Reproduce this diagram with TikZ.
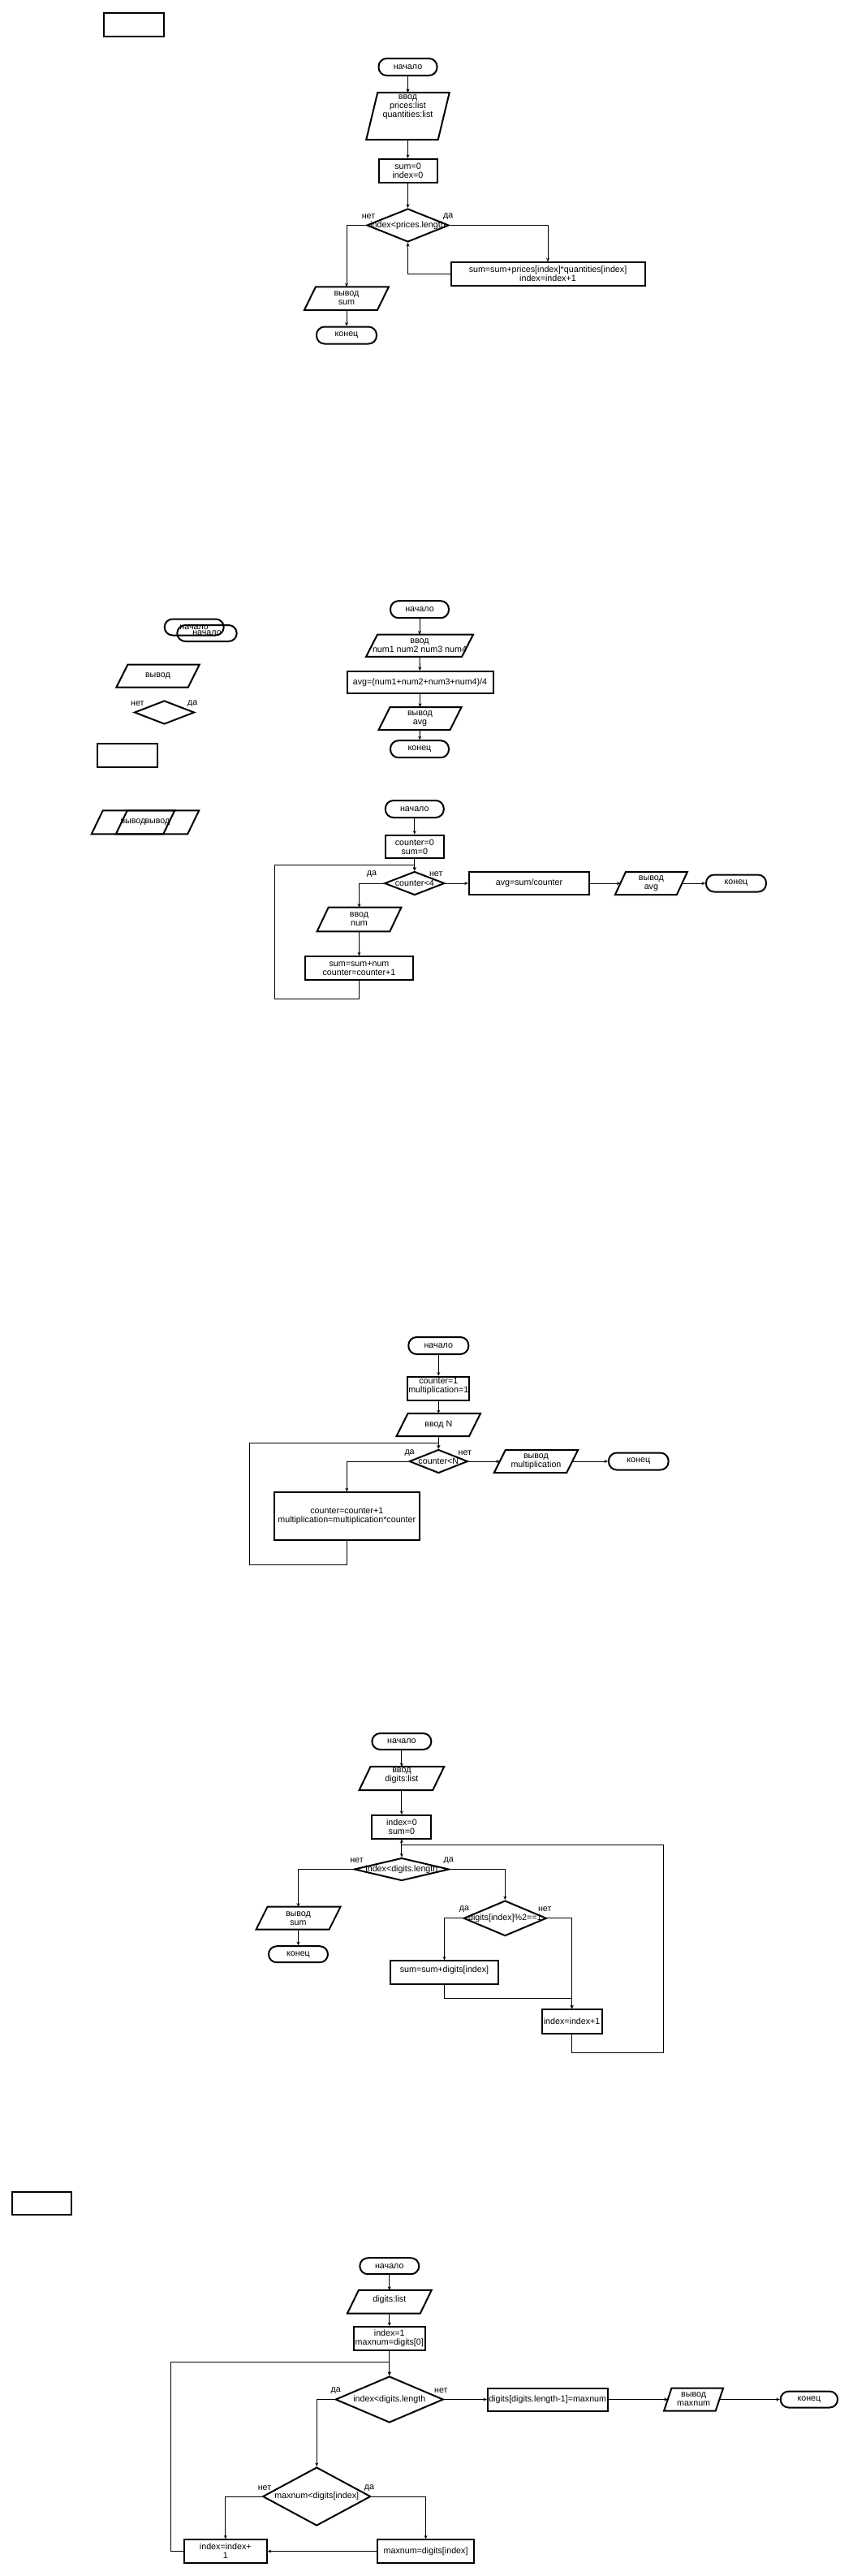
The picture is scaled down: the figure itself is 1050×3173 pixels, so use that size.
\documentclass[tikz,border=0pt]{standalone}
\usepackage{fontspec}
\setmainfont{Liberation Sans}
\usetikzlibrary{arrows.meta,shapes.geometric}
\tikzset{
  flow/.style={-{Stealth[length=4.5pt,width=4pt]},line width=1pt},
  term/.style={draw,line width=2pt,rounded corners=10pt,minimum height=21pt,inner sep=0pt},
  proc/.style={draw,line width=2pt,inner sep=1pt,align=center},
  cond/.style={diamond,draw,line width=2pt,inner sep=0pt},
  io/.style={inner sep=1pt,align=center,outer xsep=-#1,outer ysep=0pt,
    append after command={\pgfextra{\draw[line width=2pt]
      ([xshift=#1]\tikzlastnode.north west) -- ([xshift=#1]\tikzlastnode.north east)
      -- ([xshift=-#1]\tikzlastnode.south east) -- ([xshift=-#1]\tikzlastnode.south west) -- cycle;}}},
  io/.default=7pt,
  lift/.style={text depth=#1},
  lbl/.style={inner sep=0pt},
}
\begin{document}
\begin{tikzpicture}[x=1pt,y=-1pt,font=\fontsize{10.7}{11}\selectfont]
  \fill[white] (0,0) rectangle (1050,3173);
  \useasboundingbox (0,0) rectangle (1050,3173);

  % empty box, top left
  \node[proc,minimum width=74pt,minimum height=29pt] (blank1) at (164.5,30) {};

  % prices * quantities
  \node[term,minimum width=72pt] (c1start) at (502.5,82.5) {начало};
  \node[io,minimum width=102.5pt,minimum height=58pt,lift=25pt] (c1in) at (502.5,143)
    {ввод\\prices:list\\quantities:list};
  \node[proc,minimum width=72pt,minimum height=29pt] (c1init) at (502.5,210.3) {sum=0\\index=0};
  \node[cond,minimum width=101pt,minimum height=41pt] (c1cond) at (502.5,277.5)
    {\makebox[0pt]{index<prices.length}};
  \node[proc,minimum width=239pt,minimum height=28.5pt] (c1body) at (675,337.5)
    {sum=sum+prices[index]*quantities[index]\\index=index+1};
  \node[io,minimum width=104pt,minimum height=28.5pt] (c1out) at (427,367.5) {вывод\\sum};
  \node[term,minimum width=74pt] (c1end) at (427,413) {конец};
  \node[lbl] (c1no) at (454,266.7) {нет};
  \node[lbl] (c1yes) at (552.3,266.7) {да};
  \draw[flow] (c1start)--(c1in);
  \draw[flow] (c1in)--(c1init);
  \draw[flow] (c1init)--(c1cond);
  \draw[flow] (c1cond.west) -| (c1out.north);
  \draw[flow] (c1cond.east) -| (c1body.north);
  \draw[flow] (c1body.west) -| (c1cond.south);
  \draw[flow] (c1out)--(c1end);

  % loose shapes
  \node[term,minimum width=73pt,minimum height=20pt] (c2startA) at (239.2,772.5) {начало};
  \node[term,minimum width=73.4pt,minimum height=20pt] (c2startB) at (255,780) {начало};
  \node[io,minimum width=102.4pt,minimum height=28pt] (c2out) at (194.5,832.7) {вывод};
  \node[cond,minimum width=74pt,minimum height=29pt] (c2cond) at (202.5,877.5) {};
  \node[lbl] (c2no) at (169.3,866.7) {нет};
  \node[lbl] (c2yes) at (237.3,866.7) {да};
  \node[proc,minimum width=73.7pt,minimum height=29pt] (c2box) at (157.2,930.5) {};

  % average of four numbers
  \node[term,minimum width=72pt] (c2start) at (517,750.7) {начало};
  \node[io,minimum width=132pt,minimum height=27.3pt] (c2in) at (517,795.3) {ввод\\num1 num2 num3 num4};
  \node[proc,minimum width=180pt,minimum height=27pt] (c2avg) at (517.5,840.5) {avg=(num1+num2+num3+num4)/4};
  \node[io,minimum width=102pt,minimum height=28pt] (c2res) at (517.5,885) {вывод\\avg};
  \node[term,minimum width=72pt] (c2end) at (517,922.7) {конец};
  \draw[flow] (c2start)--(c2in);
  \draw[flow] (c2in)--(c2avg);
  \draw[flow] (c2avg)--(c2res);
  \draw[flow] (c2res)--(c2end);

  % two overlapping outputs
  \node[io,minimum width=102.5pt,minimum height=29pt] (c3pA) at (164,1012.8) {вывод};
  \node[io,minimum width=102.4pt,minimum height=29pt] (c3pB) at (194,1012.8) {вывод};

  % average of input numbers
  \node[term,minimum width=72pt] (c3start) at (510.8,996.5) {начало};
  \node[proc,minimum width=72pt,minimum height=28.6pt] (c3init) at (510.8,1043) {counter=0\\sum=0};
  \node[cond,minimum width=74pt,minimum height=29pt] (c3cond) at (510.8,1088) {\makebox[0pt]{counter<4}};
  \node[io,minimum width=103.7pt,minimum height=29.6pt] (c3in) at (442.5,1132.5) {ввод\\num};
  \node[proc,minimum width=133.5pt,minimum height=29pt] (c3body) at (442.5,1192.8) {sum=sum+num\\counter=counter+1};
  \node[proc,minimum width=148.4pt,minimum height=28pt] (c3avg) at (652,1088) {avg=sum/counter};
  \node[io=6.5pt,minimum width=89pt,minimum height=28pt] (c3out) at (802.4,1088) {вывод\\avg};
  \node[term,minimum width=74pt] (c3end) at (907,1088) {конец};
  \node[lbl] (c3yes) at (458,1076.7) {да};
  \node[lbl] (c3no) at (537.2,1076.7) {нет};
  \draw[flow] (c3start)--(c3init);
  \draw[flow] (c3init)--(c3cond);
  \draw[flow] (c3cond.west) -| (c3in.north);
  \draw[flow] (c3in)--(c3body);
  \draw[flow] (c3body.south) -- ++(0,22) -| (338,1065.7) -| (c3cond.north);
  \draw[flow] (c3cond)--(c3avg);
  \draw[flow] (c3avg)--(c3out);
  \draw[flow] (c3out)--(c3end);

  % factorial
  \node[term,minimum width=74pt] (c4start) at (540.3,1657.5) {начало};
  \node[proc,minimum width=75pt,minimum height=29pt,lift=8pt] (c4init) at (540.3,1710) {counter=1\\multiplication=1};
  \node[io,minimum width=103.4pt,minimum height=28pt] (c4in) at (540.3,1755) {ввод N};
  \node[cond,minimum width=72pt,minimum height=29pt] (c4cond) at (540.3,1800) {\makebox[0pt]{counter<N}};
  \node[proc,minimum width=178.4pt,minimum height=58.4pt] (c4body) at (427.3,1867.5)
    {counter=counter+1\\multiplication=multiplication*counter};
  \node[io,minimum width=103.4pt,minimum height=28pt] (c4out) at (660.5,1800) {вывод\\multiplication};
  \node[term,minimum width=73.7pt] (c4end) at (786.8,1800) {конец};
  \node[lbl] (c4yes) at (504.6,1790) {да};
  \node[lbl] (c4no) at (572.9,1790) {нет};
  \draw[flow] (c4start)--(c4init);
  \draw[flow] (c4init)--(c4in);
  \draw[flow] (c4in)--(c4cond);
  \draw[flow] (c4cond.west) -| (c4body.north);
  \draw[flow] (c4body.south) -- ++(0,30) -| (307.9,1777.7) -| (c4cond.north);
  \draw[flow] (c4cond)--(c4out);
  \draw[flow] (c4out)--(c4end);

  % sum of odd digits
  \node[term,minimum width=73pt,minimum height=20pt] (c5start) at (494.9,2145) {начало};
  \node[io,minimum width=104.7pt,minimum height=29pt,lift=8pt] (c5in) at (494.9,2190.5) {ввод\\digits:list};
  \node[proc,minimum width=73pt,minimum height=28.7pt] (c5init) at (494.9,2250.3) {index=0\\sum=0};
  \node[cond,minimum width=117pt,minimum height=28pt] (c5cond) at (494.9,2302.5)
    {\makebox[0pt]{index<digits.length}};
  \node[io,minimum width=104pt,minimum height=28pt] (c5out) at (367.5,2362.7) {вывод\\sum};
  \node[term,minimum width=73pt,minimum height=20pt] (c5end) at (367.5,2407.2) {конец};
  \node[cond,minimum width=102pt,minimum height=43.5pt] (c5odd) at (622.3,2362.8)
    {\makebox[0pt]{digits[index]\%2==1}};
  \node[proc,minimum width=133.3pt,minimum height=28.7pt,lift=8pt] (c5add) at (547.5,2429.7) {sum=sum+digits[index]};
  \node[proc,minimum width=73.8pt,minimum height=29.4pt] (c5inc) at (704.6,2490) {index=index+1};
  \node[lbl] (c5no) at (439.5,2291.7) {нет};
  \node[lbl] (c5yes) at (552.8,2291.7) {да};
  \node[lbl] (c5oddyes) at (572,2351.7) {да};
  \node[lbl] (c5oddno) at (671.2,2351.7) {нет};
  \draw[flow] (c5start)--(c5in);
  \draw[flow] (c5in)--(c5init);
  \draw[flow] (c5init)--(c5cond);
  \draw[flow] (c5cond.west) -| (c5out.north);
  \draw[flow] (c5out)--(c5end);
  \draw[flow] (c5cond.east) -| (c5odd.north);
  \draw[flow] (c5odd.west) -| (c5add.north);
  \draw[flow] (c5odd.east) -| (c5inc.north);
  \draw[flow] (c5add.south) -- ++(0,16) -| (c5inc.north);
  \draw[flow] (c5inc.south) -- ++(0,22.6) -| (817.2,2272.3) -| (c5init.south);

  % empty box, bottom left
  \node[proc,minimum width=73pt,minimum height=28.5pt] (blank2) at (51.5,2714) {};

  % maximum of digits
  \node[term,minimum width=73pt,minimum height=20pt] (c6start) at (479.8,2791.2) {начало};
  \node[io,minimum width=103.8pt,minimum height=28.7pt,lift=8pt] (c6in) at (479.8,2835.3) {digits:list};
  \node[proc,minimum width=88.5pt,minimum height=28.7pt] (c6init) at (479.8,2880.3) {index=1\\maxnum=digits[0]};
  \node[cond,minimum width=133pt,minimum height=57pt] (c6cond) at (479.8,2955.5)
    {\makebox[0pt]{index<digits.length}};
  \node[proc,minimum width=147.7pt,minimum height=28pt,inner xsep=0pt] (c6fin) at (674.7,2955.5)
    {digits[digits.length-1]=maxnum};
  \node[io=4.7pt,minimum width=73pt,minimum height=28pt] (c6out) at (854.6,2955.5) {вывод\\maxnum};
  \node[term,minimum width=70.4pt,minimum height=20pt] (c6end) at (996.9,2955.5) {конец};
  \node[cond,minimum width=133pt,minimum height=72pt] (c6cmp) at (390.2,3075)
    {\makebox[0pt]{maxnum<digits[index]}};
  \node[proc,minimum width=102pt,minimum height=28.4pt] (c6inc) at (277.8,3142.5) {index=index+\\1};
  \node[proc,minimum width=118.7pt,minimum height=28.4pt] (c6max) at (524.6,3142.5) {maxnum=digits[index]};
  \node[lbl] (c6yes) at (413.8,2945) {да};
  \node[lbl] (c6no) at (543.3,2945) {нет};
  \node[lbl] (c6cmpno) at (326,3064.3) {нет};
  \node[lbl] (c6cmpyes) at (455,3064.3) {да};
  \draw[flow] (c6start)--(c6in);
  \draw[flow] (c6in)--(c6init);
  \draw[flow] (c6init)--(c6cond);
  \draw[flow] (c6cond)--(c6fin);
  \draw[flow] (c6fin)--(c6out);
  \draw[flow] (c6out)--(c6end);
  \draw[flow] (c6cond.west) -| (c6cmp.north);
  \draw[flow] (c6cmp.west) -| (c6inc.north);
  \draw[flow] (c6cmp.east) -| (c6max.north);
  \draw[flow] (c6max)--(c6inc);
  \draw[flow] (c6inc.west) -| (210.3,2909.3) -| (c6cond.north);
\end{tikzpicture}
\end{document}
